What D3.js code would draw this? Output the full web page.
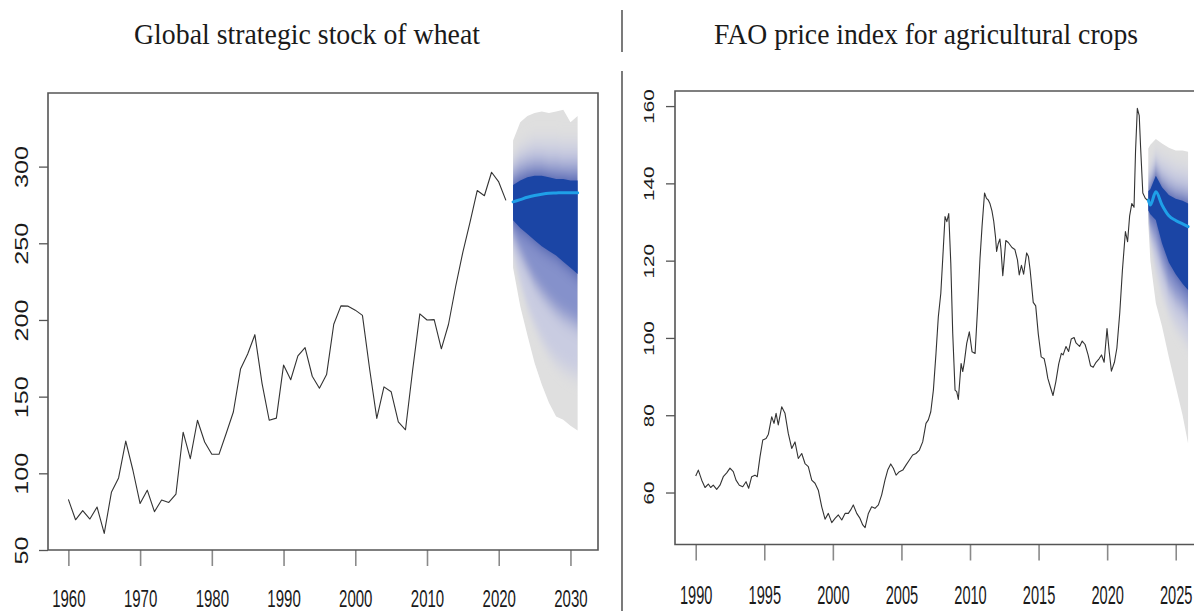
<!DOCTYPE html>
<html>
<head>
<meta charset="utf-8">
<script src="https://cdn.jsdelivr.net/npm/d3@7/dist/d3.min.js"></script>
<style>
  html, body { margin: 0; padding: 0; background: #fff; }
  svg { display: block; }
</style>
</head>
<body>
<svg id="chart" width="1194" height="611"></svg>
<script>
// Two fan charts side by side: wheat stock (annual) and FAO crop price index (monthly).
// Values.

const TITLE_LEFT  = "Global strategic stock of wheat";
const TITLE_RIGHT = "FAO price index for agricultural crops";

// ---- left panel: wheat stock ----
const WHEAT_YEARS = [1960,1961,1962,1963,1964,1965,1966,1967,1968,1969,
                     1970,1971,1972,1973,1974,1975,1976,1977,1978,1979,
                     1980,1981,1982,1983,1984,1985,1986,1987,1988,1989,
                     1990,1991,1992,1993,1994,1995,1996,1997,1998,1999,
                     2000,2001,2002,2003,2004,2005,2006,2007,2008,2009,
                     2010,2011,2012,2013,2014,2015,2016,2017,2018,2019,
                     2020,2021];
const WHEAT_STOCK = [83,69.7,75.7,70.2,78,60.8,87.6,97,121,102,
                     80.3,89,75,82.6,81,86.5,126.8,109.6,134.6,120.4,
                     112.4,112.4,126,140,168,177.8,190.4,158.7,134.6,136,
                     170.6,161,176.6,182,163.3,155.5,164.4,197.2,209.2,209,
                     206.4,203,168,135.8,156.4,153.2,133.5,128.4,167.4,204,
                     200,200.2,181.2,197.2,222,244.3,263.8,284.4,281,296.3,
                     290,278];

const WHEAT_FAN_YEARS = [2022,2023,2024,2025,2026,2027,2028,2029,2030,2031];
const WHEAT_MEDIAN    = [277,278.5,280,281.2,282,282.6,282.8,283,283,283];
const WHEAT_UP_OUTER  = [317,329,333,335,336,335,336,337,329,333];
const WHEAT_UP_A      = [305,311,314,316,316,316,316,315,315,315];
const WHEAT_UP_B      = [297,301,303,304,304,303,303,302,302,302];
const WHEAT_UP_DARK   = [288,291,293,294,294,293,292,292,291,291];
const WHEAT_LO_DARK   = [265,260,256,252,248,245,242,238,234,230];
const WHEAT_LO_B      = [254,243,233,224,217,211,206,202,199,196];
const WHEAT_LO_A      = [243,225,209,197,187,179,173,169,166,164];
const WHEAT_LO_OUTER  = [234,209,190,172,158,146,137,135,131,128];

const WHEAT_X_TICKS = [1960,1970,1980,1990,2000,2010,2020,2030];
const WHEAT_Y_TICKS = [50,100,150,200,250,300];

// ---- right panel: FAO price index ----
const PRICE_YEARS = [1990.00,1990.19,1990.44,1990.68,1990.92,1991.09,1991.28,1991.53,1991.77,
  1992.01,1992.26,1992.50,1992.74,1992.94,1993.18,1993.43,1993.67,1993.86,1994.08,1994.32,
  1994.49,1994.69,1994.89,1995.13,1995.30,1995.54,1995.71,1995.86,1996.02,1996.27,1996.51,
  1996.75,1997.00,1997.24,1997.48,1997.73,1997.97,1998.21,1998.46,1998.70,1998.94,1999.19,
  1999.43,1999.67,1999.92,2000.16,2000.40,2000.65,2000.89,2001.13,2001.30,2001.49,2001.74,
  2001.98,2002.18,2002.35,2002.59,2002.83,2003.07,2003.32,2003.56,2003.80,2004.00,2004.22,
  2004.41,2004.61,2004.85,2005.10,2005.33,2005.58,2005.82,2006.06,2006.31,2006.55,2006.79,
  2006.96,2007.14,2007.33,2007.52,2007.69,2007.87,2008.06,2008.18,2008.31,2008.45,2008.60,
  2008.74,2008.91,2009.03,2009.15,2009.35,2009.47,2009.58,2009.76,2009.95,2010.15,2010.37,
  2010.56,2010.73,2010.88,2011.06,2011.20,2011.33,2011.46,2011.60,2011.73,2011.86,2011.94,
  2012.05,2012.18,2012.26,2012.39,2012.47,2012.61,2012.79,2013.06,2013.27,2013.46,2013.59,
  2013.75,2013.91,2014.13,2014.26,2014.39,2014.61,2014.79,2014.98,2015.19,2015.41,2015.54,
  2015.67,2015.86,2016.05,2016.26,2016.47,2016.66,2016.79,2017.00,2017.19,2017.38,2017.59,
  2017.73,2017.99,2018.18,2018.39,2018.61,2018.79,2018.98,2019.19,2019.41,2019.59,2019.78,
  2019.99,2020.15,2020.31,2020.53,2020.71,2020.92,2021.11,2021.33,2021.49,2021.64,2021.80,
  2021.96,2022.07,2022.20,2022.34,2022.44,2022.60,2022.79,2022.92];
const PRICE_INDEX = [64.3,65.8,63.2,61.3,62.2,61.3,61.9,60.8,61.9,
  64.1,65.1,66.3,65.4,63.2,61.9,61.5,62.8,61.1,64.1,64.5,
  64.1,69.3,73.6,74.0,75.1,79.6,77.9,80.5,77.5,82.2,80.5,
  75.3,71.4,73.1,68.8,70.1,67.5,66.7,63.2,62.4,60.6,56.3,
  53.1,54.6,52.2,53.3,54.2,52.9,54.6,54.6,55.5,56.8,54.6,
  53.3,51.6,50.9,54.6,56.3,55.9,56.8,59.4,63.2,65.8,67.4,
  66.3,64.5,65.4,65.8,67.1,68.4,69.7,70.1,71.0,73.1,77.9,
  78.8,80.9,86.5,96.0,105.5,111.5,123.6,131.4,130.1,132.2,119.3,
  101.2,86.5,86.1,84.1,93.4,91.3,93.6,98.6,101.6,96.4,96.0,
  108.1,120.6,129.0,137.5,136.1,135.7,134.7,132.9,130.2,126.1,122.4,
  124.3,125.6,122.9,116.1,119.3,125.2,124.7,123.4,122.9,120.2,116.3,
  118.8,116.5,122.0,121.1,117.4,109.2,108.3,101.0,95.1,94.6,92.4,
  89.6,87.3,85.1,88.7,93.3,96.0,95.6,97.8,96.5,99.7,100.1,
  98.7,97.8,99.2,98.3,95.6,92.8,92.4,93.7,94.6,95.6,93.7,
  102.4,96.5,91.4,93.7,97.4,106.5,117.4,127.5,124.9,131.6,134.8,
  133.8,148.4,159.4,157.5,149.3,137.5,136.1,135.7];

const PRICE_FAN_YEARS = [2023.0,2023.15,2023.55,2024.0,2024.5,2025.0,2025.5,2025.9];
const PRICE_MEDIAN    = [135.7,134.4,137.8,134.4,131.6,130.4,129.5,128.8];
const PRICE_UP_OUTER  = [149,150,151.5,150.3,149.2,148.5,148.5,148.2];
const PRICE_UP_A      = [143,144,147,146,145,144,143.5,143];
const PRICE_UP_B      = [140,140.5,144,141.5,140,139,138.5,138];
const PRICE_UP_DARK   = [138,138.5,142,139,137,136,135.5,134.8];
const PRICE_LO_DARK   = [133,132,130.5,124.5,119.5,116.5,114,112.4];
const PRICE_LO_B      = [132,128,124,118.5,113,110,108,106];
const PRICE_LO_A      = [131,125,118,112,107,103.5,101,99];
const PRICE_LO_OUTER  = [129.6,120,109,103,95,87.5,80,72.7];

const PRICE_X_TICKS = [1990,1995,2000,2005,2010,2015,2020,2025];
const PRICE_Y_TICKS = [60,80,100,120,140,160];

// ---- style ----
const C = {
  line:   "#333",
  box:    "#555",
  tick:   "#8a8a8a",
  text:   "#1a1a1a",
  gray:   "#dfdfdf",
  lav:    "#c9cce1",
  mid:    "#8591cb",
  dark:   "#1b45a5",
  median: "#1fa0e8",
};
const SANS  = "'Liberation Sans', Arial, sans-serif";
const SERIF = "'Liberation Serif', 'Times New Roman', serif";

const svg = d3.select("#chart");
const defs = svg.append("defs");

defs.append("filter")
    .attr("id",           "vblur")
    .attr("filterUnits",  "userSpaceOnUse")
    .attr("x", 0).attr("y", 0).attr("width", 1194).attr("height", 611)
  .append("feGaussianBlur")
    .attr("stdDeviation", "0.01 9");

// titles + panel divider
function drawTitle(text, cx, width) {
  svg.append("text")
    .attr("transform",     `translate(${cx},44) scale(1,1.2)`)
    .attr("text-anchor",   "middle")
    .attr("font-family",   SERIF)
    .attr("font-size",     "25px")
    .attr("fill",          C.text)
    .attr("textLength",    width)
    .attr("lengthAdjust",  "spacingAndGlyphs")
    .text(text);
}
drawTitle(TITLE_LEFT, 307, 346);
drawTitle(TITLE_RIGHT, 926, 424);

svg.append("line")
  .attr("x1", 622).attr("x2", 622).attr("y1", 10).attr("y2", 52)
  .attr("stroke", "#222").attr("stroke-width", 1.2);
svg.append("line")
  .attr("x1", 622).attr("x2", 622).attr("y1", 71).attr("y2", 611)
  .attr("stroke", "#222").attr("stroke-width", 1.2);

// ---- scales ----
const xL = d3.scaleLinear().domain([1957.16, 2033.84]).range([48, 598]);
const yL = d3.scaleLinear().domain([50, 348]).range([550, 93]);
const xR = d3.scaleLinear().domain([1988.49, 2029.3]).range([675, 1234.7]);
const yR = d3.scaleLinear().domain([46.55, 163.9]).range([544.5, 91]);

function bandArea(x, y, years, lo, hi) {
  return d3.area()
    .x((d, i) => x(years[i]))
    .y0((d, i) => y(lo[i]))
    .y1((d, i) => y(hi[i]))(years);
}

function drawFan(g, id, x, y, f) {
  defs.append("clipPath").attr("id", id)
    .append("path").attr("d", bandArea(x, y, f.years, f.loOuter, f.upOuter));

  g.append("path")
    .attr("d",    bandArea(x, y, f.years, f.loOuter, f.upOuter))
    .attr("fill", C.gray);

  // intermediate bands, softened vertically so they read as a gradient
  const soft = g.append("g")
    .attr("clip-path", `url(#${id})`)
    .append("g")
    .attr("filter", "url(#vblur)");
  soft.append("path")
    .attr("d",    bandArea(x, y, f.years, f.loA, f.upA))
    .attr("fill", C.lav);
  soft.append("path")
    .attr("d",    bandArea(x, y, f.years, f.loB, f.upB))
    .attr("fill", C.mid);
  soft.append("path")
    .attr("d",    bandArea(x, y, f.years, f.loDark, f.upDark))
    .attr("fill", C.dark);

  g.append("path")
    .attr("d",    bandArea(x, y, f.years, f.loDark, f.upDark))
    .attr("fill", C.dark);

  g.append("path")
    .datum(f.median)
    .attr("d", d3.line()
      .x((d, i) => x(f.years[i]))
      .y(d => y(d))
      .curve(d3.curveMonotoneX))
    .attr("fill",           "none")
    .attr("stroke",         C.median)
    .attr("stroke-width",   3)
    .attr("stroke-linecap", "round");
}

function drawHistory(g, x, y, years, values) {
  g.append("path")
    .datum(values)
    .attr("d", d3.line().x((d, i) => x(years[i])).y(d => y(d)))
    .attr("fill",            "none")
    .attr("stroke",          C.line)
    .attr("stroke-width",    1.1)
    .attr("stroke-linejoin", "round");
}

function drawAxes(g, x, y, xTicks, yTicks, box, lab) {
  const [x0, x1, y0, y1] = box;

  // x axis: ticks hang below the box
  const xa = g.append("g")
    .attr("transform", `translate(0,${y1})`)
    .call(d3.axisBottom(x).tickValues(xTicks).tickSize(16).tickFormat(d3.format("d")));
  xa.select(".domain").remove();
  xa.selectAll(".tick line").attr("stroke", C.tick).attr("stroke-width", 1.6);
  xa.selectAll(".tick text")
    .attr("y", 0).attr("dy", 0)
    .attr("transform",   `translate(0,${lab.xOff}) scale(1,${lab.xScale})`)
    .attr("fill",        C.text)
    .attr("font-family", SANS)
    .attr("font-size",   lab.xSize + "px");

  // y axis: rotated labels, parallel to the axis
  const ya = g.append("g")
    .attr("transform", `translate(${x0},0)`)
    .call(d3.axisLeft(y).tickValues(yTicks).tickSize(9).tickFormat(d3.format("d")));
  ya.select(".domain").remove();
  ya.selectAll(".tick line").attr("stroke", C.box).attr("stroke-width", 1.3);
  ya.selectAll(".tick text")
    .attr("x", 0).attr("dy", 0)
    .attr("transform",   `translate(${lab.yOff},0) rotate(-90) scale(${lab.yScale},1)`)
    .attr("text-anchor", "middle")
    .attr("fill",        C.text)
    .attr("font-family", SANS)
    .attr("font-size",   lab.ySize + "px");

  // box
  g.append("path")
    .attr("d", `M${x1},${y0}H${x0}V${y1}H${x1}` + (lab.closed ? "Z" : ""))
    .attr("fill",         "none")
    .attr("stroke",       C.box)
    .attr("stroke-width", 1.6);
}

// ---- left panel ----
const gL = svg.append("g");
drawFan(gL, "clipL", xL, yL, {
  years: WHEAT_FAN_YEARS, median: WHEAT_MEDIAN,
  upOuter: WHEAT_UP_OUTER, upA: WHEAT_UP_A, upB: WHEAT_UP_B, upDark: WHEAT_UP_DARK,
  loDark: WHEAT_LO_DARK, loB: WHEAT_LO_B, loA: WHEAT_LO_A, loOuter: WHEAT_LO_OUTER,
});
drawHistory(gL, xL, yL, WHEAT_YEARS, WHEAT_STOCK);
drawAxes(gL, xL, yL, WHEAT_X_TICKS, WHEAT_Y_TICKS, [48, 598, 93, 550], {
  xOff: 57, xScale: 1.62, xSize: 15,
  yOff: -20.3, yScale: 1.36, ySize: 18.5,
  closed: true,
});

// ---- right panel ----
const gR = svg.append("g");
drawFan(gR, "clipR", xR, yR, {
  years: PRICE_FAN_YEARS, median: PRICE_MEDIAN,
  upOuter: PRICE_UP_OUTER, upA: PRICE_UP_A, upB: PRICE_UP_B, upDark: PRICE_UP_DARK,
  loDark: PRICE_LO_DARK, loB: PRICE_LO_B, loA: PRICE_LO_A, loOuter: PRICE_LO_OUTER,
});
drawHistory(gR, xR, yR, PRICE_YEARS, PRICE_INDEX);
drawAxes(gR, xR, yR, PRICE_X_TICKS, PRICE_Y_TICKS, [675, 1200, 91, 544.5], {
  xOff: 59.5, xScale: 1.72, xSize: 14.6,
  yOff: -21.5, yScale: 1.38, ySize: 15,
  closed: false,
});
</script>
</body>
</html>
